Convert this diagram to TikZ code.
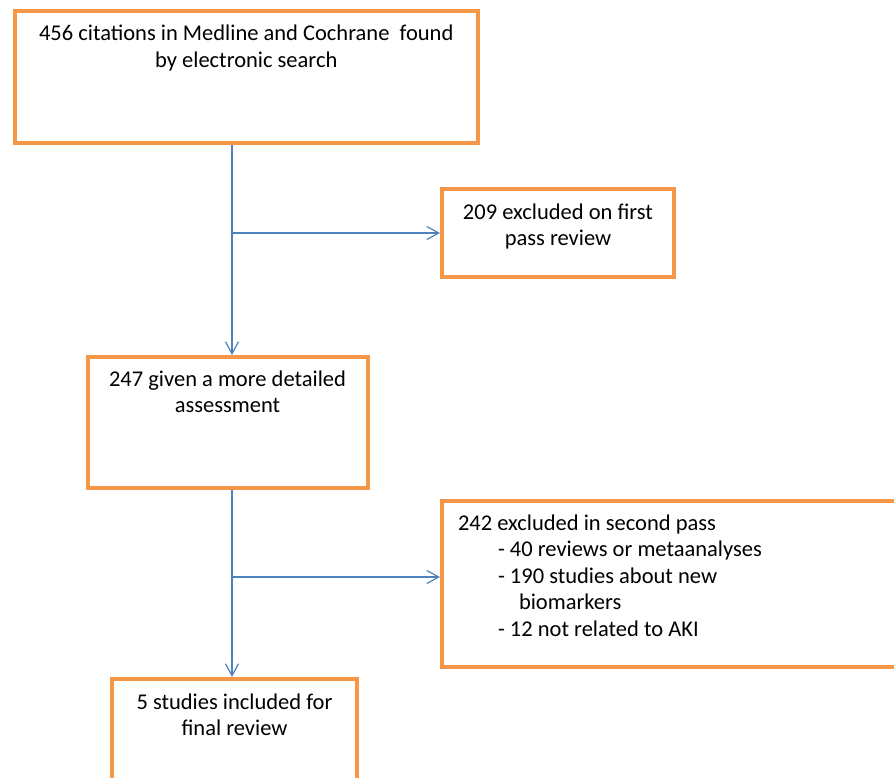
\documentclass[tikz,border=0pt]{standalone}
\usepackage{fontspec}
\setmainfont{Carlito}
\usetikzlibrary{arrows.meta}
\definecolor{boxorange}{RGB}{247,150,70}
\definecolor{flowblue}{RGB}{79,129,189}

\begin{document}
\begin{tikzpicture}[x=1pt, y=-1pt,
    every node/.style={font=\fontsize{22.5}{26.5}\selectfont},
    stage/.style={draw=boxorange, line width=4pt, inner sep=0pt, anchor=north west},
    flow/.style={draw=flowblue, line width=1.2pt, -{Straight Barb[length=12pt, width=13pt]}}]
    \useasboundingbox (0,0) rectangle (894,778);
    \node[stage] (search) at (12.5,9)
      {\parbox[t][132.5pt][t]{463.5pt}{\centering\rule{0pt}{30pt}456 citations in Medline and Cochrane\ \ found\\
       by electronic search}};
    \node[stage] (firstpass) at (440,187)
      {\parbox[t][88pt][t]{232pt}{\centering\rule{0pt}{30pt}209 excluded on first\\
       pass review}};
    \node[stage] (assess) at (85.5,355)
      {\parbox[t][131pt][t]{280pt}{\centering\rule{0pt}{29pt}247 given a more detailed\\
       assessment}};
    \node[stage] (secondpass) at (440,499)
      {\parbox[t][166pt][t]{480pt}{\raggedright\hspace*{16pt}\rule{0pt}{29pt}242 excluded in second pass\\
       \hspace*{56pt}- 40 reviews or metaanalyses\\
       \hspace*{56pt}- 190 studies about new\\
       \hspace*{77pt}biomarkers\\
       \hspace*{56pt}- 12 not related to AKI}};
    \node[stage] (final) at (110,677)
      {\parbox[t][110pt][t]{245pt}{\centering\rule{0pt}{30pt}5 studies included for\\
       final review}};
    \coordinate (trunk) at (232,0);
    \coordinate (split) at (232,577);
    \draw[flow] (search.south -| trunk) -- (assess.north -| trunk);
    \draw[flow] (firstpass.west -| trunk) -- (firstpass.west);
    \draw[flow] (assess.south -| trunk) -- (final.north -| trunk);
    \draw[flow] (split) -- (split -| secondpass.west);
\end{tikzpicture}
\end{document}
